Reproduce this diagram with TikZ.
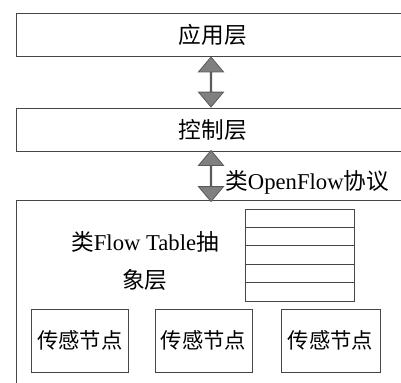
\documentclass[tikz,border=0pt]{standalone}
\usepackage{fontspec}
\setmainfont{Liberation Serif}
\newfontfamily\cjk{Noto Sans CJK SC}
\usetikzlibrary{shapes.arrows,calc,positioning}
\definecolor{linegray}{RGB}{70,70,70}
\definecolor{arrowfill}{RGB}{128,128,128}
\definecolor{arrowline}{RGB}{90,90,90}

\begin{document}
\begin{tikzpicture}[x=0.75pt,y=0.75pt,yscale=-1,xscale=1,
    layer/.style={draw=linegray, line width=0.6pt, inner sep=0pt, minimum width=295.5pt, minimum height=32.25pt, font=\fontsize{17}{20}\selectfont},
    sensor/.style={draw=linegray, line width=0.6pt, inner sep=0pt, minimum width=72.75pt, minimum height=47.25pt, font=\cjk\fontsize{16}{20}\selectfont},
    fatarrow/.style={double arrow, rotate=90, draw=arrowline, fill=arrowfill, line width=0.6pt, inner sep=0pt, minimum width=18.75pt, double arrow head extend=5.6pt, double arrow tip angle=80},
    lbl/.style={inner sep=0pt, font=\fontsize{17}{28}\selectfont}]
\useasboundingbox (0,0) rectangle (401,383);
% layers
\node[layer] (app) at (213,35) {\cjk 应用层};
\node[layer] (ctrl) at (213,129.5) {\cjk 控制层};
\node[layer, minimum height=142.5pt] (dev) at (213,295) {};
% arrows between layers
\node[fatarrow, minimum height=37.5pt] (a1) at (211,82) {};
\node[fatarrow, minimum height=38.25pt] (a2) at (211,176) {};
\node[lbl, anchor=west] (proto) at (225,182) {{\cjk 类}OpenFlow{\cjk 协议}};
% flow table
\node[lbl, align=center] (ftlbl) at (145,261) {{\cjk 类}Flow Table{\cjk 抽}\\{\cjk 象层}};
\node[draw=linegray, line width=0.6pt, minimum width=81.75pt, minimum height=69pt, inner sep=0pt] (ftab) at (299.5,255) {};
\foreach \i in {1,...,4}
  \draw[linegray, line width=0.6pt] ($(ftab.north west)!\i/5!(ftab.south west)$) -- ($(ftab.north east)!\i/5!(ftab.south east)$);
% sensor nodes
\node[sensor] (s1) at (80,340.5) {传感节点};
\node[sensor] (s2) at (203.5,340.5) {传感节点};
\node[sensor, minimum width=74.25pt] (s3) at (330.5,340.5) {传感节点};
\end{tikzpicture}
\end{document}
